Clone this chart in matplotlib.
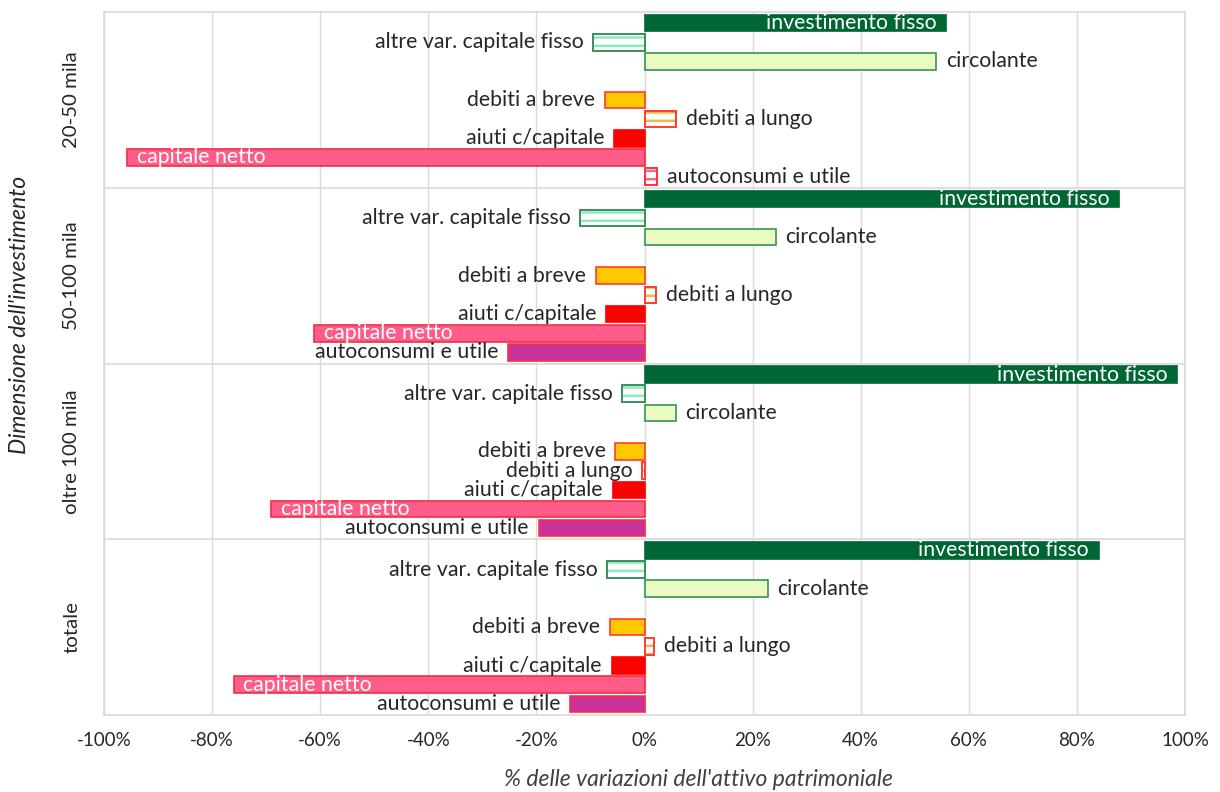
import matplotlib
matplotlib.use("Agg")
import matplotlib.pyplot as plt
import numpy as np

plt.rcParams['font.family'] = ['Lato', 'DejaVu Sans']
plt.rcParams['hatch.linewidth'] = 1.8

groups = ["20-50 mila", "50-100 mila", "oltre 100 mila", "totale"]
series = ["investimento fisso", "altre var. capitale fisso", "circolante", "",
          "debiti a breve", "debiti a lungo", "aiuti c/capitale", "capitale netto",
          "autoconsumi e utile"]

investimento_fisso = [55.8, 87.8, 98.5, 84.0]
altre_var_capitale_fisso = [-9.5, -11.9, -4.1, -6.9]
circolante = [54.0, 24.3, 5.8, 22.8]
vuoto = [0, 0, 0, 0]
debiti_a_breve = [-7.3, -9.0, -5.4, -6.4]
debiti_a_lungo = [5.8, 2.1, -0.4, 1.8]
aiuti_c_capitale = [-5.6, -7.1, -5.9, -6.1]
capitale_netto = [-95.7, -61.1, -69.1, -76.0]
autoconsumi_e_utile = [2.3, -25.2, -19.6, -13.8]

values = [investimento_fisso, altre_var_capitale_fisso, circolante, vuoto,
          debiti_a_breve, debiti_a_lungo, aiuti_c_capitale, capitale_netto,
          autoconsumi_e_utile]

# style: (facecolor, edgecolor, hatch, hatchcolor, label mode)
styles = [
    ("#006633", "#006633", None, None, "inside"),
    ("white", "#3A8F5A", "--", "#8FE8C0", "outside"),
    ("#EAFBC2", "#3A8F5A", None, None, "outside"),
    (None, None, None, None, None),
    ("#FFC800", "#FF3B2F", None, None, "outside"),
    ("white", "#FF3B2F", "--", "#F0B848", "outside"),
    ("#FF0000", "#FF0000", None, None, "outside"),
    ("#FF5C8A", "#F03040", None, None, "inside"),
    ("#C8309A", "#FF3040", None, None, "outside"),
]

G = 9.15          # group height in slot units
off = 0.575       # first slot offset
h = 0.86

fig = plt.figure(figsize=(12.2, 7.92), dpi=100)
ax = fig.add_axes([104/1220, 1 - 715/792, (1185-104)/1220, (715-12)/792])

ng = len(groups)
fs = 15.3
for k, (name, vals, st) in enumerate(zip(series, values, styles)):
    if not name:
        continue
    fc, ec, hatch, hc, mode = st
    ys = np.array([g*G + off + k for g in range(ng)])
    vals = np.array(vals, dtype=float)
    for g in range(ng):
        v = vals[g]
        y = ys[g]
        if name == "autoconsumi e utile" and v > 0:
            ax.barh(y, v, height=h, color="white", edgecolor="#F07090",
                    hatch="--", linewidth=0, zorder=3)
            ax.barh(y, v, height=h, fill=False, edgecolor=ec, linewidth=1.4, zorder=4)
        elif hatch:
            ax.barh(y, v, height=h, color="white", edgecolor=hc,
                    hatch=hatch, linewidth=0, zorder=3)
            ax.barh(y, v, height=h, fill=False, edgecolor=ec, linewidth=1.4, zorder=4)
        else:
            ax.barh(y, v, height=h, color=fc, edgecolor=ec, linewidth=1.2, zorder=3)
        pad = 1.8
        if mode == "inside":
            if v > 0:
                ax.text(v - pad, y, name, ha="right", va="center", color="white",
                        fontsize=fs, zorder=5)
            else:
                ax.text(v + pad, y, name, ha="left", va="center", color="white",
                        fontsize=fs, zorder=5)
        else:
            if v >= 0:
                ax.text(v + pad, y, name, ha="left", va="center", color="#262626",
                        fontsize=fs, zorder=5)
            else:
                ax.text(v - pad, y, name, ha="right", va="center", color="#262626",
                        fontsize=fs, zorder=5)

ax.set_xlim(-100, 100)
ax.set_ylim(ng*G, 0)
ticks = np.arange(-100, 101, 20)
ax.set_xticks(ticks)
ax.set_xticklabels([f"{t}%" for t in ticks], fontsize=13.5, color="#262626")
ax.tick_params(axis="x", length=0, pad=12)
ax.set_yticks([])
for t in ticks:
    ax.axvline(t, color="#D9D9D9", lw=1, zorder=1)
for g in range(1, ng):
    ax.axhline(g*G, color="#D9D9D9", lw=1.2, zorder=1)
for s in ax.spines.values():
    s.set_color("#D9D9D9")
    s.set_linewidth(1.2)

for g, name in enumerate(groups):
    ax.text(-0.022, 1 - (g + 0.5)/ng, name, transform=ax.transAxes, rotation=90,
            ha="right", va="center", fontsize=14.7, color="#262626")

fig.text(698/1220, 1 - 779/792, "% delle variazioni dell'attivo patrimoniale",
         ha="center", va="center", fontsize=16.5, style="italic", color="#404040")
fig.text(20/1220, 1 - 315/792, "Dimensione dell'investimento", rotation=90,
         ha="center", va="center", fontsize=16.5, style="italic", color="#262626")

fig.savefig("out.png", dpi=100)
